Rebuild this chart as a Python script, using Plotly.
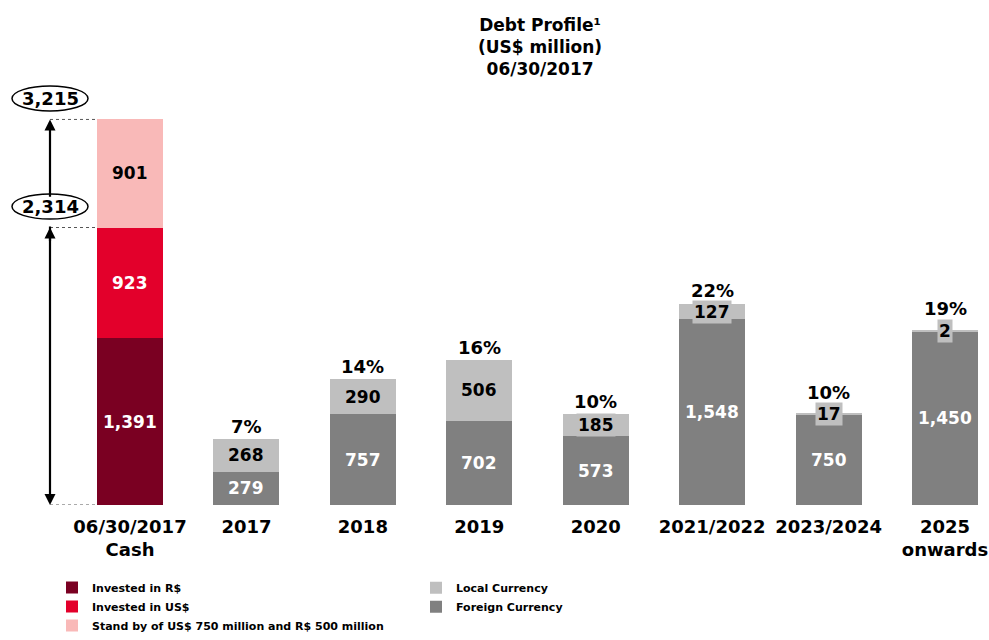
import plotly.graph_objects as go

# ---------------- data ----------------
categories = ["06/30/2017<br>Cash", "2017", "2018", "2019", "2020",
              "2021/2022", "2023/2024", "2025<br>onwards"]
cash_series = ["Invested in R$", "Invested in US$", "Stand by of US$ 750 million and R$ 500 million"]
cash_values = [1391, 923, 901]
foreign_currency = [279, 757, 702, 573, 1548, 750, 1450]
local_currency = [268, 290, 506, 185, 127, 17, 2]
pct_labels = ["7%", "14%", "16%", "10%", "22%", "10%", "19%"]
cash_totals = [2314, 3215]
cash_total_labels = ["2,314", "3,215"]

# ---------------- style ----------------
W, H = 989, 640
MT, MB = 80, 118
YMAX = 3544
PX_PER_X = 116.43
XMIN = -130 / PX_PER_X
XMAX = XMIN + W / PX_PER_X
BAR_W = 0.567
PLOT_H = H - MT - MB
PPU = PLOT_H / YMAX
FONT = "DejaVu Sans"
cash_colors = ["#7A0022", "#E3002B", "#F9B9B8"]
cash_text = ["white", "white", "black"]
FOREIGN_C = "#808080"
LOCAL_C = "#BFBFBF"

x_pos = list(range(len(categories)))
debt_x = x_pos[1:]

fig = go.Figure()
for name, val, col in zip(cash_series, cash_values, cash_colors):
    fig.add_trace(go.Bar(x=[0], y=[val], name=f"<b>{name}</b>", marker=dict(color=col, line=dict(width=0)),
                         width=BAR_W, legend="legend", hoverinfo="skip"))
fig.add_trace(go.Bar(x=debt_x, y=foreign_currency, name="<b>Foreign Currency</b>",
                     marker=dict(color=FOREIGN_C, line=dict(width=0)), width=BAR_W,
                     legend="legend2", hoverinfo="skip"))
fig.add_trace(go.Bar(x=debt_x, y=local_currency, name="<b>Local Currency</b>",
                     marker=dict(color=LOCAL_C, line=dict(width=0)), width=BAR_W,
                     legend="legend2", hoverinfo="skip"))

ann = []
# cash value labels
base = 0
for val, tc in zip(cash_values, cash_text):
    ann.append(dict(x=0, y=base + val / 2, text=f"<b>{val:,}</b>", showarrow=False,
                    font=dict(family=FONT, size=17, color=tc)))
    base += val
# debt value labels and percentages
for xi, f, l, p in zip(debt_x, foreign_currency, local_currency, pct_labels):
    ann.append(dict(x=xi, y=f / 2, text=f"<b>{f:,}</b>", showarrow=False,
                    font=dict(family=FONT, size=17, color="white")))
    ann.append(dict(x=xi, y=f + l / 2, text=f"<b>{l:,}</b>", showarrow=False,
                    bgcolor=LOCAL_C, borderpad=1,
                    font=dict(family=FONT, size=17, color="black")))
    h = l * PPU
    shift = max(0, 9.5 - h / 2)
    ann.append(dict(x=xi, y=f + l, text=f"<b>{p}</b>", showarrow=False, yanchor="bottom",
                    yshift=shift, font=dict(family=FONT, size=18, color="black")))

# left side totals: arrows, ellipses, dotted lines
ARROW_X = XMIN + 50 / PX_PER_X
ELL_UP, ELL_H = 21, 12.5
low, high = cash_totals
ann.append(dict(x=ARROW_X, y=high, ax=0, ay=(high - low) * PPU - (ELL_UP + ELL_H),
                showarrow=True, arrowhead=2, arrowsize=1, arrowwidth=2.2, arrowcolor="black", text=""))
ann.append(dict(x=ARROW_X, y=0, ax=0, ay=-(low * PPU - (ELL_UP - ELL_H)),
                showarrow=True, arrowhead=2, arrowsize=1, arrowwidth=2.2, arrowcolor="black", text=""))
ann.append(dict(x=ARROW_X, y=low, ax=0, ay=15,
                showarrow=True, arrowhead=2, arrowsize=1, arrowwidth=2.2, arrowcolor="black", text=""))

shapes = []
for lvl in [0] + cash_totals:
    shapes.append(dict(type="line", xref="x", yref="y", x0=ARROW_X, x1=-BAR_W / 2, y0=lvl, y1=lvl,
                       line=dict(color="#555555", width=1, dash="dot")))
for lvl, lab in zip(cash_totals, cash_total_labels):
    shapes.append(dict(type="circle", xref="x", yref="y", xsizemode="pixel", ysizemode="pixel",
                       xanchor=ARROW_X, yanchor=lvl, x0=-38, x1=38,
                       y0=ELL_UP - ELL_H, y1=ELL_UP + ELL_H,
                       line=dict(color="black", width=1.5), fillcolor="white", layer="above"))
    ann.append(dict(x=ARROW_X, y=lvl, yshift=ELL_UP, text=f"<b>{lab}</b>", showarrow=False,
                    font=dict(family=FONT, size=18, color="black")))

# title
ann.append(dict(xref="paper", yref="paper", x=540 / W, y=1 + (MT - 10) / PLOT_H,
                yanchor="top", showarrow=False, align="center",
                text="<b>Debt Profile¹<br>(US$ million)<br>06/30/2017</b>",
                font=dict(family=FONT, size=17, color="black")))

LEG_TOP = 593  # px from top of figure
fig.update_layout(
    width=W, height=H, autosize=False,
    margin=dict(l=0, r=0, t=MT, b=MB),
    barmode="stack", bargap=0,
    plot_bgcolor="white", paper_bgcolor="white",
    xaxis=dict(range=[XMIN, XMAX], tickvals=x_pos, ticktext=[f"<b>{c}</b>" for c in categories],
               tickfont=dict(family=FONT, size=18, color="black"), showgrid=False, zeroline=False,
               showline=False, ticks="", ticklabelstandoff=9),
    yaxis=dict(range=[0, YMAX], visible=False, showgrid=False, zeroline=False),
    showlegend=True,
    legend=dict(x=52 / W, y=(H - MB - LEG_TOP) / PLOT_H, xanchor="left", yanchor="top",
                orientation="v", traceorder="normal", font=dict(family=FONT, size=11, color="black"),
                bgcolor="rgba(0,0,0,0)", tracegroupgap=0),
    legend2=dict(x=416 / W, y=(H - MB - LEG_TOP) / PLOT_H, xanchor="left", yanchor="top",
                 orientation="v", traceorder="reversed", font=dict(family=FONT, size=11, color="black"),
                 bgcolor="rgba(0,0,0,0)", tracegroupgap=0),
    annotations=ann, shapes=shapes,
)

fig.write_html("out.html", config={"displayModeBar": False, "responsive": False},
               post_script="document.body.style.margin='0';")
